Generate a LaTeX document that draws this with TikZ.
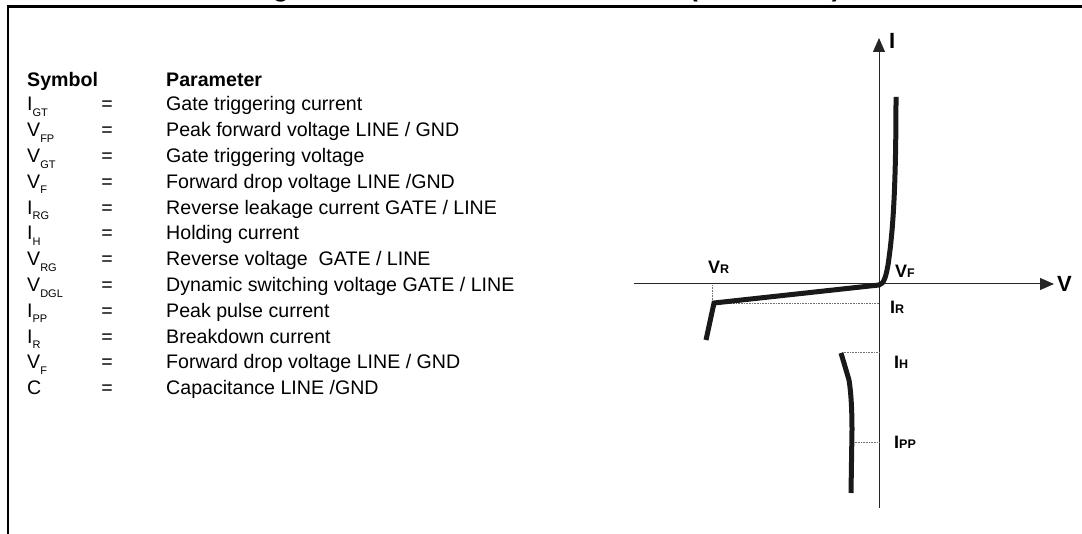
\documentclass[tikz,border=0pt]{standalone}
\usepackage{fontspec}
\setmainfont{Liberation Sans}
\usetikzlibrary{arrows.meta}
\newcommand\lsub[1]{\raisebox{-5.5pt}{\fontsize{11}{11}\selectfont #1}}
\newcommand\glab[2]{{\fontsize{18}{18}\selectfont\bfseries #1}{\fontsize{12.5}{12.5}\selectfont\bfseries #2}}
\begin{document}
\begin{tikzpicture}[x=1pt,y=-1pt,
  lst/.style={anchor=base west,inner sep=0pt,font=\fontsize{19.6}{19.6}\selectfont},
  hdr/.style={anchor=base west,inner sep=0pt,font=\fontsize{19.6}{19.6}\selectfont\bfseries},
  eqs/.style={anchor=base,inner sep=0pt,font=\fontsize{19.6}{19.6}\selectfont},
  glbl/.style={anchor=base west,inner sep=0pt},
  axislbl/.style={anchor=base west,inner sep=0pt,font=\fontsize{22}{22}\selectfont\bfseries},
  axisline/.style={line width=1pt,draw=black!85,-{Triangle[width=12pt,length=14pt]}},
  curve/.style={line width=5pt,draw=black!90},
  dots/.style={line width=0.8pt,draw=black!55,dash pattern=on 0.8pt off 0.8pt}]
\useasboundingbox (0,0) rectangle (1082,534);
% title (clipped by the frame edge, as in the reference)
\begin{scope}
\clip (0,0) rectangle (1082,534);
\node[anchor=base,inner sep=0pt,font=\fontsize{26.5}{26.5}\selectfont\bfseries] (title) at (545,-3) {Figure 3. Electrical characteristics (definitions)};
\end{scope}
% frame
\draw[line width=3pt] (7,7) -- (1082,7);
\draw[line width=1.5pt] (8,7) -- (8,534);
% table
\node[hdr] (hs) at (27,87) {Symbol};
\node[hdr] (hp) at (166,87) {Parameter};
\foreach \i/\s/\p in {
 1/{I\lsub{GT}}/{Gate triggering current},
 2/{V\lsub{FP}}/{Peak forward voltage LINE / GND},
 3/{V\lsub{GT}}/{Gate triggering voltage},
 4/{V\lsub{F}}/{Forward drop voltage LINE /GND},
 5/{I\lsub{RG}}/{Reverse leakage current GATE / LINE},
 6/{I\lsub{H}}/{Holding current},
 7/{V\lsub{RG}}/{Reverse voltage\ \ GATE / LINE},
 8/{V\lsub{DGL}}/{Dynamic switching voltage GATE / LINE},
 9/{I\lsub{PP}}/{Peak pulse current},
 10/{I\lsub{R}}/{Breakdown current},
 11/{V\lsub{F}}/{Forward drop voltage LINE / GND},
 12/{C}/{Capacitance LINE /GND}}{
 \node[lst] (s\i) at (27,{111+(\i-1)*25.8}) {\s};
 \node[eqs] (e\i) at (107,{111+(\i-1)*25.8}) {=};
 \node[lst] (p\i) at (166,{111+(\i-1)*25.8}) {\p};
}
% axes
\coordinate (vs) at (634,284);
\coordinate (ve) at (1054,284);
\coordinate (is) at (879,508);
\coordinate (ie) at (879,38);
\draw[axisline] (vs) -- (ve);
\draw[axisline] (is) -- (ie);
\node[axislbl] (ilab) at (889,49) {I};
\node[axislbl] (vlab) at (1057,292) {V};
% dotted guides
\coordinate (vr0) at (712,285);
\coordinate (vr1) at (712,303);
\coordinate (ir1) at (879,303);
\coordinate (ih0) at (842,352);
\coordinate (ih1) at (879,352);
\coordinate (ip0) at (853,442);
\coordinate (ip1) at (879,442);
\draw[dots] (vr0) -- (vr1);
\draw[dots] (vr1) -- (ir1);
\draw[dots] (ih0) -- (ih1);
\draw[dots] (ip0) -- (ip1);
% characteristic
\coordinate (a0) at (706,340);
\coordinate (a1) at (714,303);
\coordinate (a2) at (879,285);
\coordinate (a3) at (888,265);
\coordinate (a4) at (896,97);
\draw[curve] (a0) -- (a1) -- (a2) .. controls (884,284) and (886,276) .. (a3) .. controls (892,238) and (896,200) .. (a4);
\coordinate (b0) at (841,353);
\coordinate (b1) at (849,380);
\coordinate (b2) at (852,430);
\coordinate (b3) at (851,493);
\draw[curve] (b0) -- (b1) .. controls (851,392) and (852,410) .. (b2) -- (b3);
% labels
\node[glbl] (lvr) at (708,274) {\glab{V}{R}};
\node[glbl] (lvf) at (895,278) {\glab{V}{F}};
\node[glbl] (lir) at (890,314) {\glab{I}{R}};
\node[glbl] (lih) at (894,369) {\glab{I}{H}};
\node[glbl] (lipp) at (894,449) {\glab{I}{PP}};
\end{tikzpicture}
\end{document}
